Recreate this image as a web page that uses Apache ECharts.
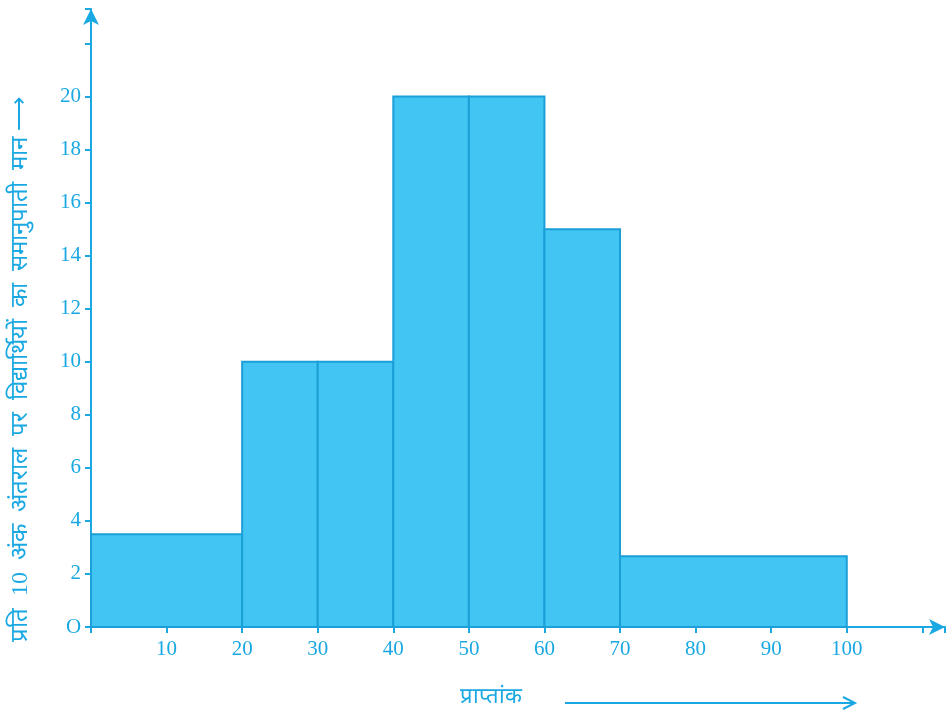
<!DOCTYPE html>
<html>
<head>
<meta charset="UTF-8">
<script src="https://cdn.jsdelivr.net/npm/echarts@6/dist/echarts.min.js"></script>
<style>body{margin:0}</style>
</head>
<body>
<div id="main" style="width:952px;height:720px;"></div>
<script>
var starts = [0, 20, 30, 40, 50, 60, 70];
var ends = [20, 30, 40, 50, 60, 70, 100];
var heights = [3.5, 10, 10, 20, 20, 15, 2.67];

var blue = '#1aa8e2';
var data = [];
for (var i = 0; i < starts.length; i++) data.push([starts[i], ends[i], heights[i]]);

var chart = echarts.init(document.getElementById('main'));
chart.setOption({
    animation: false,
    grid: {left: 91, right: 7, top: 9, bottom: 93},
    xAxis: {
        type: 'value', min: 0, max: 113, interval: 10,
        axisLine: {lineStyle: {color: blue, width: 2}, symbol: ['none', 'arrow'], symbolSize: [12, 16]},
        axisTick: {show: true, inside: false, length: 6, lineStyle: {color: blue, width: 2}},
        axisLabel: {color: blue, fontFamily: 'Liberation Serif', fontSize: 21, margin: 12,
            formatter: function (v) { return (v === 0 || v > 100) ? '' : v; }},
        splitLine: {show: false}
    },
    yAxis: {
        type: 'value', min: 0, max: 23.3, interval: 2,
        axisLine: {show: true, lineStyle: {color: blue, width: 2}, symbol: ['none', 'arrow'], symbolSize: [12, 16]},
        axisTick: {show: true, length: 6, lineStyle: {color: blue, width: 2}},
        axisLabel: {color: blue, fontFamily: 'Liberation Serif', fontSize: 21, margin: 10,
            formatter: function (v) { return (v === 0 || v > 20) ? '' : v; }},
        splitLine: {show: false}
    },
    series: [{
        type: 'custom',
        data: data,
        renderItem: function (params, api) {
            var p0 = api.coord([api.value(0), api.value(2)]);
            var p1 = api.coord([api.value(1), 0]);
            return {
                type: 'rect',
                shape: {x: p0[0], y: p0[1], width: p1[0] - p0[0], height: p1[1] - p0[1]},
                style: {fill: '#42c5f3', stroke: '#1a9fd8', lineWidth: 2}
            };
        }
    }],
    graphic: [
        {type: 'text', left: 66, top: 617, style: {text: 'O', fill: blue, font: '21px Liberation Serif'}},
        {type: 'text', x: 9, y: 642, rotation: Math.PI / 2,
            style: {text: 'प्रति  10  अंक  अंतराल  पर  विद्यार्थियों  का  समानुपाती  मान ⟶', fill: blue,
                font: '24px Liberation Serif', textVerticalAlign: 'top'}},
        {type: 'text', left: 460, top: 686, style: {text: 'प्राप्तांक', fill: blue, font: '22px Liberation Serif'}},
        {type: 'line', shape: {x1: 565, y1: 703, x2: 855, y2: 703}, style: {stroke: blue, lineWidth: 2}},
        {type: 'polyline', shape: {points: [[843, 697], [855, 703], [843, 709]]}, style: {stroke: blue, lineWidth: 2, fill: null}}
    ]
});
</script>
</body>
</html>
